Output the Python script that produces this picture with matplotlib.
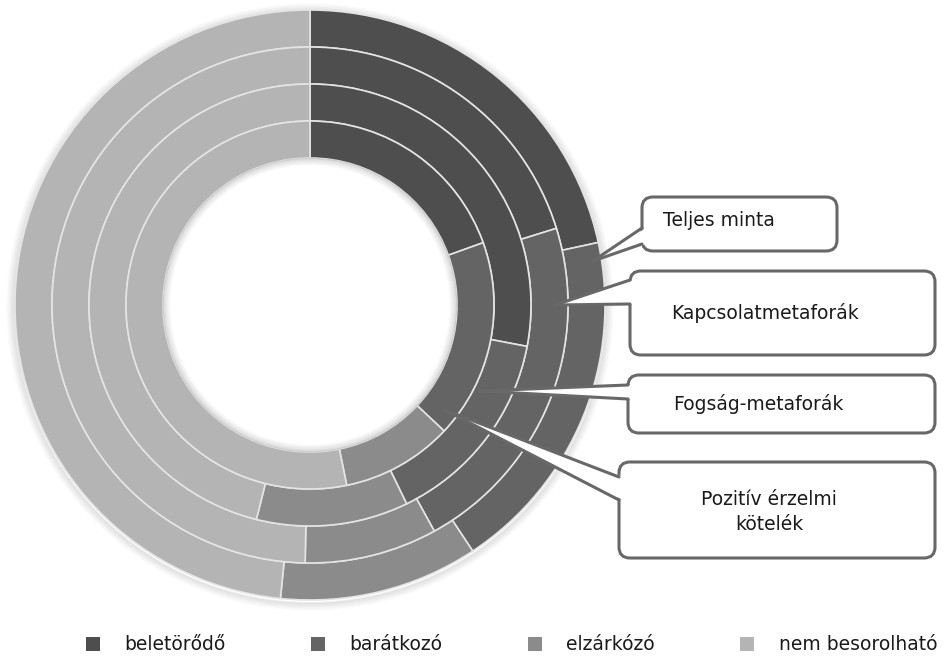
import matplotlib
matplotlib.use("Agg")
import matplotlib.pyplot as plt
from matplotlib.patches import FancyBboxPatch, Polygon, Circle, Patch

plt.rcParams['font.family'] = ['DejaVu Sans']

categories = ['beletörődő', 'barátkozó', 'elzárkózó', 'nem besorolható']
colors = ['#4e4e4e', '#646464', '#8b8b8b', '#b4b4b4']

# rings from outside to inside, shares in percent
ring_names = ['Teljes minta', 'Kapcsolatmetaforák', 'Fogság-metaforák', 'Pozitív érzelmi\nkötelék']
teljes = [21.6, 19.1, 10.9, 48.4]
kapcsolat = [20.2, 21.8, 8.3, 49.7]
fogsag = [28.0, 14.8, 11.1, 46.1]
pozitiv = [19.5, 17.5, 9.8, 53.2]
rings = [teljes, kapcsolat, fogsag, pozitiv]

W, H = 946, 657
fig = plt.figure(figsize=(W / 100, H / 100), dpi=100)
ax = fig.add_axes([0, 0, 1, 1])

cx, cy = 310, 305
R = 295
ring_w = 37

# soft shadow around the outside of the donut
for i in range(1, 10):
    ax.add_patch(Circle((cx, cy + 2), R + i * 0.9, fill=False, ec='black',
                        lw=1.3, alpha=0.07 * (1 - i / 10), zorder=0))

for k, vals in enumerate(rings):
    ax.pie(vals, colors=colors, radius=R - k * ring_w, center=(cx, cy),
           startangle=-90, counterclock=True,
           wedgeprops=dict(width=ring_w, edgecolor='#e4e4e4', linewidth=1.2))

# inner shadow of the hole
hole = R - 4 * ring_w
for i in range(0, 8):
    ax.add_patch(Circle((cx, cy), hole - i * 0.9 - 0.5, fill=False, ec='black',
                        lw=1.2, alpha=0.08 * (1 - i / 8), zorder=5))

line_c = '#686868'


def callout(x0, y0, x1, y1, tip, b_top, b_bot):
    box = FancyBboxPatch((x0, y0), x1 - x0, y1 - y0,
                         boxstyle="round,pad=0,rounding_size=11",
                         fc='white', ec=line_c, lw=2.2, zorder=10)
    ax.add_patch(box)
    ax.add_patch(Polygon([tip, (x0 + 4, b_top), (x0 + 4, b_bot)], closed=True,
                         fc='white', ec='none', zorder=11))
    ax.plot([tip[0], x0], [tip[1], b_top], color=line_c, lw=2.2,
            solid_capstyle='round', zorder=12)
    ax.plot([tip[0], x0], [tip[1], b_bot], color=line_c, lw=2.2,
            solid_capstyle='round', zorder=12)


callout(642, 197, 837, 251, (593, 261), 228, 244)
callout(630, 271, 935, 355, (555, 305), 280, 304)
callout(628, 375, 935, 433, (480, 391), 385, 399)
callout(619, 462, 935, 558, (445, 410), 477, 500)

txt = dict(fontsize=13.5, color='#1a1a1a', va='center', zorder=13)
ax.text(663, 221, ring_names[0], ha='left', **txt)
ax.text(765, 313, ring_names[1], ha='center', **txt)
ax.text(758, 404, ring_names[2], ha='center', **txt)
ax.text(769, 512, ring_names[3], ha='center', multialignment='center',
        linespacing=1.45, **txt)

handles = [Patch(facecolor=c, edgecolor='none') for c in colors]
ax.legend(handles, categories, loc='center left', ncol=4, frameon=False,
          bbox_to_anchor=(86 / W, 1 - 645 / H), borderaxespad=0, borderpad=0,
          fontsize=13.5, handlelength=0.75, handleheight=0.75,
          handletextpad=1.3, columnspacing=4.55, labelcolor='#1a1a1a')

ax.set_xlim(0, W)
ax.set_ylim(H, 0)
ax.set_aspect('equal')
ax.axis('off')

fig.savefig('out.png', dpi=100, facecolor='white')
